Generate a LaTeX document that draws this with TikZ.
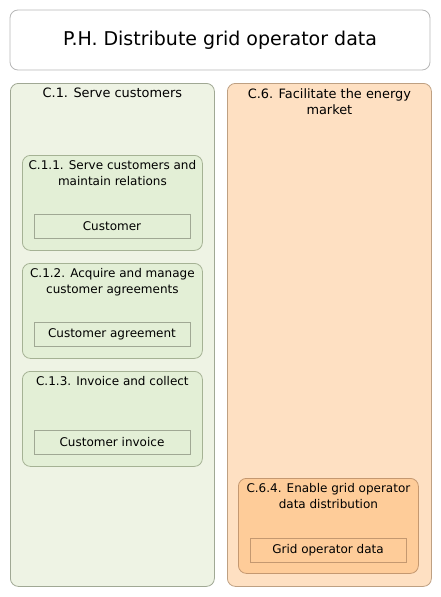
\documentclass[tikz,border=0pt]{standalone}
\usepackage{fontspec}
\setmainfont{DejaVu Sans}
\usetikzlibrary{positioning}
\definecolor{greenouter}{RGB}{238,243,228}
\definecolor{greenouterline}{RGB}{160,168,148}
\definecolor{greeninner}{RGB}{227,239,214}
\definecolor{greeninnerline}{RGB}{165,178,148}
\definecolor{orangeouter}{RGB}{254,224,194}
\definecolor{orangeouterline}{RGB}{190,160,130}
\definecolor{orangeinner}{RGB}{254,204,153}
\definecolor{orangeinnerline}{RGB}{196,152,112}
\tikzset{phasebox/.style={rectangle,rounded corners=8pt,draw=black!28,fill=white,line width=0.8pt,minimum width=420pt,minimum height=60pt,inner sep=0pt,font=\fontsize{19}{22}\selectfont}}
\tikzset{capgreen/.style={rectangle,rounded corners=8pt,draw=greenouterline,fill=greenouter,line width=0.8pt,anchor=north west,minimum width=204pt,minimum height=503pt,inner sep=0pt}}
\tikzset{caporange/.style={capgreen,draw=orangeouterline,fill=orangeouter}}
\tikzset{subgreen/.style={rectangle,rounded corners=8pt,draw=greeninnerline,fill=greeninner,line width=0.8pt,anchor=north west,minimum width=180pt,minimum height=95pt,inner sep=0pt}}
\tikzset{suborange/.style={subgreen,draw=orangeinnerline,fill=orangeinner}}
\tikzset{objgreen/.style={rectangle,draw=greenouterline,fill=greeninner,line width=0.8pt,minimum width=156pt,minimum height=24pt,inner sep=0pt,font=\fontsize{12}{16}\selectfont}}
\tikzset{objorange/.style={objgreen,draw=orangeinnerline,fill=orangeinner}}
\tikzset{captext/.style={align=center,inner sep=0pt,font=\fontsize{12}{16}\selectfont}}
\tikzset{toptext/.style={captext,font=\fontsize{12.9}{16.5}\selectfont}}

\begin{document}
\begin{tikzpicture}[x=1pt,y=-1pt]
    \useasboundingbox (0,0) rectangle (441,597);

    \node[phasebox] (ph) at (220,40) {P.H. Distribute grid operator data};

    \node[capgreen]  (c1) at (10,83)  {};
    \node[caporange] (c6) at (227,83) {};

    \node[subgreen]  (c11) at (22,155)  {};
    \node[subgreen]  (c12) at (22,263)  {};
    \node[subgreen]  (c13) at (22,371)  {};
    \node[suborange] (c64) at (238,478) {};

    \node[toptext,below = 5pt of c1.north]  {C.1. Serve customers};
    \node[toptext,below = 5pt of c6.north]  {C.6. Facilitate the energy\\market};
    \node[captext,below = 5pt of c11.north] {C.1.1. Serve customers and\\maintain relations};
    \node[captext,below = 5pt of c12.north] {C.1.2. Acquire and manage\\customer agreements};
    \node[captext,below = 5pt of c13.north] {C.1.3. Invoice and collect};
    \node[captext,below = 5pt of c64.north] {C.6.4. Enable grid operator\\data distribution};

    \node[objgreen]  (cust) at (112,226) {Customer};
    \node[objgreen]  (agr)  at (112,334) {Customer agreement};
    \node[objgreen]  (inv)  at (112,442) {Customer invoice};
    \node[objorange] (god)  at (328,550) {Grid operator data};
  \end{tikzpicture}
\end{document}
